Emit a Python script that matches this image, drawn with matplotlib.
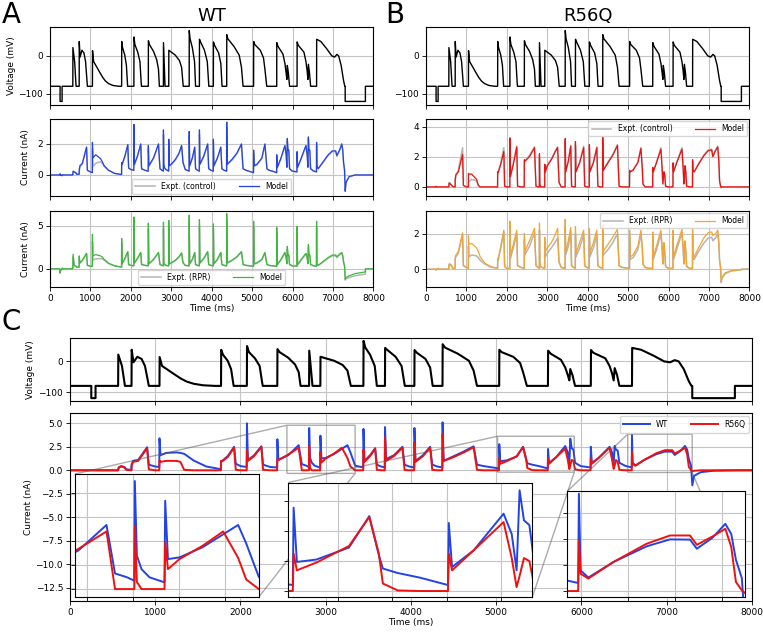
import numpy as np
import matplotlib
matplotlib.use('Agg')
from matplotlib import pyplot as plt

# ---- voltage protocol breakpoints (ms, mV) ----
V_T = [0, 250, 250, 300, 300, 565,
       567, 610, 645,
       722, 724, 745, 790, 840, 880, 915, 925,
       1050, 1052, 1080, 1150, 1240, 1300, 1370, 1450, 1560, 1700,
       1772, 1774, 1795, 1850, 1890, 1920,
       2075, 2077, 2100, 2170, 2225, 2255, 2262,
       2432, 2434, 2460, 2560, 2640, 2683, 2705,
       2805, 2807, 2845,
       2937, 2939, 3000, 3100, 3200, 3255, 3295,
       3442, 3444, 3465, 3520, 3575, 3600,
       3695, 3697, 3720, 3820, 3890, 3928,
       4040, 4042, 4070, 4170, 4225, 4255,
       4370, 4372, 4400, 4550, 4680, 4735, 4775,
       5035, 5037, 5065, 5200, 5280, 5315, 5360,
       5607, 5609, 5640, 5760, 5810, 5840, 5858, 5869, 5895, 5925,
       6110, 6112, 6140, 6280, 6330, 6360, 6378, 6390, 6418, 6445,
       6593, 6595, 6700, 6850, 6970, 7040, 7094, 7140, 7200, 7260, 7290,
       7300, 7300, 7800, 7800, 8000]
V_MV = [-80, -80, -120, -120, -80, -80,
        22, -15, -80,
        -80, 38, -3, 15, 8, -15, -65, -80,
        -80, 14, -15, -28, -45, -56, -66, -73, -78, -80,
        -80, 38, 22, 2, -25, -80,
        -80, 50, 30, 10, -15, -70, -80,
        -80, 40, 30, 12, -10, -35, -80,
        -80, 35, -80,
        -80, 15, 10, 2, -12, -30, -80,
        -80, 67, 45, 22, -15, -80,
        -80, 44, 38, 15, -15, -80,
        -80, 37, 28, 8, -20, -80,
        -80, 56, 45, 25, 2, -30, -80,
        -80, 38, 30, 15, -5, -35, -80,
        -80, 35, 25, 5, -20, -45, -62, -25, -45, -80,
        -80, 37, 28, 10, -15, -40, -62, -22, -45, -80,
        -80, 44, 38, 18, 0, -3, 4, 0, -25, -65, -80,
        -80, -120, -120, -80, -80]

# ---- key times shared by all current traces (ms) ----
T_KEY = [0, 245, 250, 262, 300, 303, 320, 560,
         565, 572, 600, 640, 660, 721,
         723, 740, 800, 905, 925, 1000, 1048,
         1050, 1062, 1130, 1250, 1295, 1340, 1450, 1600, 1770,
         1773, 1785, 1850, 1925, 1945, 2000, 2073,
         2076, 2088, 2160, 2245, 2265, 2350, 2430,
         2433, 2445, 2560, 2683, 2720, 2770, 2804,
         2806, 2815, 2835, 2870, 2935,
         2938, 2950, 3000, 3100, 3190, 3255, 3290, 3345, 3440,
         3443, 3455, 3520, 3580, 3600, 3650, 3693,
         3696, 3708, 3800, 3900, 3925, 3980, 4038,
         4041, 4053, 4140, 4225, 4250, 4310, 4368,
         4371, 4383, 4500, 4620, 4735, 4775, 4850, 5033,
         5036, 5048, 5120, 5240, 5315, 5350, 5365, 5420, 5500, 5605,
         5608, 5620, 5700, 5810, 5840, 5858, 5869, 5885, 5905, 5925, 5990, 6107,
         6110, 6122, 6200, 6330, 6360, 6378, 6390, 6405, 6425, 6445, 6520, 6590,
         6593, 6600, 6633, 6740, 6880, 6980, 7065, 7094, 7160, 7215, 7240, 7260, 7285,
         7301, 7320, 7400, 7550, 7799, 7802, 7850, 8000]

# ---- WT, control (nA) ----
WT_CTRL_MODEL = [0, 0, 0.08, -0.03, 0, -0.05, 0, 0,
                 0.03, 0.25, 0.2, 0.15, 0.05, 0.05,
                 0.3, 0.6, 0.75, 1.8, 0.3, 0.2, 0.15,
                 2.1, 1.1, 1.3, 1.05, 0.85, 0.6, 0.3, 0.1, 0.03,
                 0.8, 0.7, 1.2, 1.95, 0.45, 0.35, 0.3,
                 3.25, 0.7, 1.2, 2.0, 0.4, 0.3, 0.25,
                 1.9, 0.6, 1.1, 2.0, 0.4, 0.3, 0.25,
                 2.9, 0.7, 0.45, 0.35, 0.25,
                 2.3, 0.6, 0.7, 1.0, 1.4, 1.9, 0.8, 0.35, 0.25,
                 2.8, 0.6, 1.1, 1.8, 0.4, 0.3, 0.25,
                 2.9, 0.7, 1.2, 2.0, 0.4, 0.3, 0.25,
                 2.3, 0.6, 1.1, 1.8, 0.4, 0.3, 0.25,
                 3.4, 0.7, 1.0, 1.4, 2.0, 0.4, 0.3, 0.15,
                 1.6, 0.6, 0.7, 1.1, 2.0, 0.9, 0.4, 0.3, 0.25, 0.15,
                 1.3, 0.5, 1.0, 1.9, 1.3, 0.5, 2.35, 1.6, 1.6, 0.4, 0.25, 0.2,
                 1.5, 0.5, 1.0, 1.9, 1.3, 0.5, 2.45, 1.6, 1.6, 0.4, 0.25, 0.2,
                 2.1, 0.6, 0.4, 0.8, 1.3, 1.55, 1.55, 1.25, 1.6, 2.0, 1.6, 0.8, 0.3,
                 -1.05, -0.5, -0.1, 0, 0, 0, 0, 0]
WT_CTRL_EXPT = [0, 0, 0.05, 0, 0, -0.03, 0, 0,
                0.03, 0.2, 0.18, 0.12, 0.05, 0.05,
                0.25, 0.5, 0.7, 1.75, 0.3, 0.2, 0.15,
                1.7, 0.55, 0.75, 0.85, 0.75, 0.55, 0.3, 0.1, 0.03,
                0.7, 0.65, 1.15, 1.9, 0.45, 0.35, 0.3,
                2.8, 0.65, 1.15, 1.95, 0.4, 0.3, 0.25,
                1.7, 0.55, 1.05, 1.95, 0.4, 0.3, 0.25,
                2.6, 0.65, 0.45, 0.35, 0.25,
                2.0, 0.55, 0.65, 0.95, 1.35, 1.85, 0.8, 0.35, 0.25,
                2.5, 0.55, 1.05, 1.75, 0.4, 0.3, 0.25,
                2.6, 0.65, 1.15, 1.95, 0.4, 0.3, 0.25,
                2.1, 0.55, 1.05, 1.75, 0.4, 0.3, 0.25,
                3.0, 0.65, 0.95, 1.35, 1.95, 0.4, 0.3, 0.15,
                1.4, 0.55, 0.65, 1.05, 1.95, 0.9, 0.4, 0.3, 0.25, 0.15,
                1.2, 0.45, 0.95, 1.85, 1.3, 0.5, 2.2, 1.55, 1.55, 0.4, 0.25, 0.2,
                1.3, 0.45, 0.95, 1.85, 1.3, 0.5, 2.3, 1.55, 1.55, 0.4, 0.25, 0.2,
                1.9, 0.55, 0.4, 0.75, 1.25, 1.5, 1.5, 1.2, 1.55, 1.95, 1.6, 0.8, 0.3,
                -1.0, -0.45, -0.1, 0, 0, 0, 0, 0]

# ---- WT, RPR ----
WT_RPR_MODEL = [0, 0, -0.5, -0.2, 0, 0.1, 0, 0,
                0.1, 1.7, 0.4, 0.3, 0.2, 0.2,
                1.5, 0.7, 1.0, 1.8, 0.4, 0.3, 0.3,
                4.0, 1.5, 1.65, 1.5, 1.35, 1.1, 0.65, 0.35, 0.2,
                3.5, 0.6, 1.2, 2.0, 0.5, 0.4, 0.35,
                6.0, 0.7, 1.2, 1.9, 0.5, 0.4, 0.35,
                5.3, 0.6, 1.1, 1.9, 0.5, 0.4, 0.35,
                5.4, 0.7, 0.5, 0.4, 0.35,
                5.6, 0.6, 0.7, 1.0, 1.4, 1.85, 0.7, 0.4, 0.35,
                6.2, 0.6, 1.1, 1.9, 0.5, 0.4, 0.35,
                5.7, 0.7, 1.2, 2.0, 0.5, 0.4, 0.35,
                5.2, 0.6, 1.1, 1.9, 0.5, 0.4, 0.35,
                6.4, 0.7, 1.0, 1.4, 2.0, 0.5, 0.4, 0.3,
                5.5, 0.6, 0.7, 1.1, 1.9, 0.9, 0.5, 0.4, 0.35, 0.3,
                4.8, 0.5, 1.0, 1.9, 1.3, 0.6, 2.6, 1.6, 1.6, 0.5, 0.35, 0.3,
                4.9, 0.5, 1.0, 1.8, 1.3, 0.6, 2.8, 1.6, 1.6, 0.5, 0.35, 0.3,
                5.5, 0.6, 0.4, 0.8, 1.3, 1.6, 1.6, 1.4, 1.7, 1.9, 1.5, 0.8, 0.3,
                -1.2, -1.0, -0.8, -0.55, -0.35, 0, 0, 0]
WT_RPR_EXPT = [0, 0, -0.45, -0.15, 0, 0.08, 0, 0,
               0.1, 1.4, 0.35, 0.3, 0.2, 0.2,
               1.2, 0.65, 0.95, 1.75, 0.4, 0.3, 0.3,
               3.2, 1.0, 1.15, 1.2, 1.15, 1.0, 0.6, 0.35, 0.2,
               3.0, 0.55, 1.15, 1.95, 0.5, 0.4, 0.35,
               5.2, 0.65, 1.15, 1.85, 0.5, 0.4, 0.35,
               4.6, 0.55, 1.05, 1.85, 0.5, 0.4, 0.35,
               4.7, 0.65, 0.5, 0.4, 0.35,
               4.9, 0.55, 0.65, 0.95, 1.35, 1.8, 0.7, 0.4, 0.35,
               5.4, 0.55, 1.05, 1.85, 0.5, 0.4, 0.35,
               5.0, 0.65, 1.15, 1.95, 0.5, 0.4, 0.35,
               4.6, 0.55, 1.05, 1.85, 0.5, 0.4, 0.35,
               5.6, 0.65, 0.95, 1.35, 1.95, 0.5, 0.4, 0.3,
               4.8, 0.55, 0.65, 1.05, 1.85, 0.9, 0.5, 0.4, 0.35, 0.3,
               4.2, 0.45, 0.95, 1.85, 1.3, 0.6, 2.3, 1.55, 1.55, 0.5, 0.35, 0.3,
               4.3, 0.45, 0.95, 1.75, 1.3, 0.6, 2.5, 1.55, 1.55, 0.5, 0.35, 0.3,
               4.8, 0.55, 0.4, 0.75, 1.25, 1.5, 1.5, 1.3, 1.6, 1.85, 1.5, 0.8, 0.3,
               -1.3, -1.15, -1.0, -0.8, -0.6, 0, 0, 0]

# ---- R56Q, control ----
R56Q_CTRL_MODEL = [0, 0, 0.05, 0, 0, 0, 0, 0,
                   0.0, 0.25, 0.2, 0.1, 0.02, 0.0,
                   0.5, 0.8, 1.0, 2.15, 0.1, 0.0, 0.0,
                   0.9, 0.85, 0.85, 0.5, 0.1, 0.0, 0.0, 0.0, 0.0,
                   1.0, 0.95, 1.5, 2.35, 0.05, 0.0, 0.0,
                   3.25, 0.7, 1.5, 2.65, 0.05, 0.0, 0.0,
                   1.8, 1.7, 2.0, 2.6, 0.05, 0.0, 0.0,
                   2.2, 0.2, 0.0, 0.0, 0.0,
                   1.5, 1.0, 1.4, 1.8, 2.3, 2.6, 0.3, 0.0, 0.0,
                   3.2, 1.0, 1.7, 2.7, 0.05, 0.0, 0.0,
                   3.0, 1.0, 1.6, 2.6, 0.05, 0.0, 0.0,
                   2.8, 1.0, 1.6, 2.6, 0.05, 0.0, 0.0,
                   3.3, 1.1, 1.6, 2.1, 2.75, 0.05, 0.0, 0.0,
                   1.1, 1.0, 1.1, 1.6, 2.55, 1.2, 0.2, 0.0, 0.0, 0.0,
                   1.3, 1.0, 1.6, 2.5, 1.2, 0.2, 0.5, 1.0, 0.8, 0.05, 0.0, 0.0,
                   1.6, 1.0, 1.6, 2.5, 1.2, 0.2, 0.6, 1.4, 1.0, 0.05, 0.0, 0.0,
                   1.8, 1.1, 1.0, 1.5, 2.1, 2.4, 2.45, 2.0, 2.4, 2.65, 1.8, 0.4, 0.05,
                   -0.05, 0, 0, 0, 0, 0, 0, 0]
R56Q_CTRL_EXPT = [0, 0, 0, 0, 0, 0, 0, 0,
                  0.0, 0.3, 0.25, 0.1, 0.02, 0.0,
                  0.5, 0.8, 1.1, 2.6, 0.1, 0.0, 0.0,
                  0.3, 0.35, 0.5, 0.4, 0.1, 0.0, 0.0, 0.0, 0.0,
                  1.0, 1.0, 1.6, 2.6, 0.05, 0.0, 0.0,
                  3.0, 0.7, 1.6, 2.7, 0.05, 0.0, 0.0,
                  1.7, 1.7, 2.1, 2.65, 0.05, 0.0, 0.0,
                  2.0, 0.2, 0.0, 0.0, 0.0,
                  1.4, 1.0, 1.45, 1.85, 2.35, 2.65, 0.3, 0.0, 0.0,
                  3.0, 1.0, 1.75, 2.75, 0.05, 0.0, 0.0,
                  2.8, 1.0, 1.65, 2.7, 0.05, 0.0, 0.0,
                  2.6, 1.0, 1.65, 2.65, 0.05, 0.0, 0.0,
                  3.1, 1.1, 1.65, 2.15, 2.8, 0.05, 0.0, 0.0,
                  1.0, 1.0, 1.15, 1.65, 2.6, 1.2, 0.2, 0.0, 0.0, 0.0,
                  1.2, 1.0, 1.65, 2.6, 1.2, 0.2, 0.5, 1.0, 0.8, 0.05, 0.0, 0.0,
                  1.5, 1.0, 1.65, 2.6, 1.2, 0.2, 0.6, 1.4, 1.0, 0.05, 0.0, 0.0,
                  1.7, 1.1, 1.0, 1.55, 2.15, 2.45, 2.5, 2.05, 2.45, 2.7, 1.8, 0.4, 0.05,
                  0, 0, 0, 0, 0, 0, 0, 0]

# ---- R56Q, RPR ----
R56Q_RPR_MODEL = [0, 0, -0.05, 0, 0, 0.05, 0, 0,
                  0.05, 0.3, 0.3, 0.2, 0.05, 0.05,
                  0.7, 0.8, 1.0, 2.05, 0.2, 0.1, 0.05,
                  1.9, 1.4, 1.45, 1.2, 1.0, 0.7, 0.35, 0.15, 0.05,
                  0.6, 0.6, 1.3, 2.2, 0.15, 0.05, 0.05,
                  2.7, 0.8, 1.4, 2.2, 0.2, 0.1, 0.05,
                  2.0, 1.0, 1.6, 2.3, 0.2, 0.1, 0.05,
                  2.6, 0.4, 0.15, 0.1, 0.05,
                  1.8, 1.0, 1.2, 1.5, 1.9, 2.3, 0.4, 0.1, 0.05,
                  2.8, 1.0, 1.6, 2.35, 0.2, 0.1, 0.05,
                  2.4, 0.9, 1.5, 2.2, 0.2, 0.1, 0.05,
                  2.3, 0.9, 1.5, 2.2, 0.2, 0.1, 0.05,
                  2.5, 1.0, 1.4, 1.8, 2.25, 0.2, 0.1, 0.05,
                  2.2, 0.7, 0.8, 1.3, 2.2, 1.2, 0.3, 0.1, 0.05, 0.05,
                  2.1, 0.7, 1.3, 2.2, 1.2, 0.3, 1.2, 1.5, 1.0, 0.15, 0.05, 0.05,
                  2.2, 0.7, 1.3, 2.25, 1.2, 0.3, 1.4, 1.6, 1.1, 0.15, 0.05, 0.05,
                  2.3, 0.8, 0.7, 1.2, 1.8, 2.05, 2.1, 1.9, 2.0, 2.2, 1.6, 0.5, 0.1,
                  -0.7, -0.45, -0.2, -0.08, -0.02, 0, 0, 0]
R56Q_RPR_EXPT = [0, 0, -0.05, 0, 0, 0.05, 0, 0,
                 0.05, 0.25, 0.25, 0.15, 0.05, 0.05,
                 0.6, 0.7, 0.9, 1.95, 0.2, 0.1, 0.05,
                 1.3, 0.7, 0.8, 0.75, 0.65, 0.5, 0.3, 0.12, 0.05,
                 0.5, 0.5, 1.2, 2.1, 0.15, 0.05, 0.05,
                 2.3, 0.6, 1.2, 2.0, 0.2, 0.1, 0.05,
                 1.7, 0.8, 1.3, 2.05, 0.2, 0.1, 0.05,
                 2.2, 0.35, 0.15, 0.1, 0.05,
                 1.5, 0.7, 0.9, 1.2, 1.5, 1.75, 0.4, 0.1, 0.05,
                 2.4, 0.8, 1.3, 2.1, 0.2, 0.1, 0.05,
                 2.0, 0.7, 1.2, 1.95, 0.2, 0.1, 0.05,
                 1.9, 0.7, 1.2, 1.95, 0.2, 0.1, 0.05,
                 2.1, 0.8, 1.1, 1.5, 2.0, 0.2, 0.1, 0.05,
                 1.8, 0.55, 0.65, 1.1, 2.0, 1.1, 0.3, 0.1, 0.05, 0.05,
                 1.8, 0.55, 1.1, 2.0, 1.1, 0.3, 1.0, 1.3, 0.9, 0.15, 0.05, 0.05,
                 1.9, 0.55, 1.1, 2.05, 1.1, 0.3, 1.2, 1.4, 1.0, 0.15, 0.05, 0.05,
                 2.0, 0.6, 0.55, 1.0, 1.5, 1.75, 1.8, 1.6, 1.75, 2.0, 1.5, 0.5, 0.1,
                 -0.75, -0.5, -0.25, -0.1, -0.03, 0, 0, 0]

# ---- panel C: model comparison ----
C_WT = [0, 0, 0, 0, 0, 0, 0, 0,
        0.05, 0.3, 0.45, 0.35, 0.1, 0.05,
        0.6, 1.0, 1.1, 2.45, 0.6, 0.4, 0.35,
        3.4, 1.6, 1.85, 1.9, 1.85, 1.75, 1.05, 0.4, 0.12,
        1.0, 1.0, 1.5, 2.5, 0.7, 0.45, 0.35,
        5.0, 1.1, 1.6, 2.55, 0.6, 0.35, 0.3,
        3.3, 1.1, 1.6, 2.67, 0.65, 0.5, 0.35,
        4.5, 1.39, 0.83, 0.49, 0.28,
        3.68, 1.25, 1.32, 1.74, 2.28, 2.67, 1.9, 0.5, 0.3,
        4.4, 1.0, 1.6, 2.35, 0.6, 0.4, 0.3,
        4.6, 1.2, 1.6, 2.5, 0.6, 0.4, 0.3,
        4.5, 1.0, 1.6, 2.5, 0.6, 0.4, 0.3,
        5.1, 1.0, 1.5, 2.0, 2.55, 0.6, 0.45, 0.2,
        2.78, 0.97, 1.05, 1.45, 2.5, 1.2, 0.75, 0.6, 0.45, 0.2,
        2.27, 0.8, 1.36, 2.58, 1.9, 0.69, 3.36, 2.36, 2.2, 0.8, 0.45, 0.3,
        2.5, 0.8, 1.3, 2.5, 1.9, 0.7, 2.6, 2.2, 2.1, 0.8, 0.45, 0.31,
        3.75, 0.8, 0.52, 1.12, 1.72, 1.99, 1.98, 1.63, 2.05, 2.59, 2.2, 1.2, 0.5,
        -1.6, -0.6, -0.2, -0.05, 0, 0, 0, 0]
C_R56Q = [0, 0, 0, 0, 0, 0, 0, 0,
          0.0, 0.3, 0.4, 0.3, 0.05, 0.0,
          0.5, 0.9, 1.0, 2.35, 0.1, 0.0, 0.0,
          1.05, 0.9, 1.0, 1.0, 0.9, 0.05, 0.0, 0.0, 0.0,
          1.0, 0.95, 1.4, 2.4, 0.05, 0.0, 0.0,
          2.2, 1.0, 1.5, 2.5, 0.05, 0.0, 0.0,
          1.2, 1.1, 1.67, 2.4, 0.0, 0.0, 0.0,
          2.6, 0.3, 0.0, 0.0, 0.0,
          1.95, 0.83, 1.25, 1.8, 2.4, 1.3, 0.4, 0.0, 0.0,
          2.2, 0.9, 1.5, 2.3, 0.05, 0.0, 0.0,
          3.5, 1.0, 1.5, 2.4, 0.05, 0.0, 0.0,
          3.0, 0.9, 1.5, 2.4, 0.05, 0.0, 0.0,
          3.9, 1.0, 1.4, 1.9, 2.45, 0.05, 0.0, 0.0,
          1.25, 0.69, 0.95, 1.5, 2.47, 1.25, 0.25, 0.02, 0.0, 0.0,
          1.25, 0.69, 1.36, 2.3, 1.1, 0.13, 0.5, 1.1, 1.0, 0.1, 0.0, 0.0,
          1.3, 0.7, 1.3, 2.4, 1.1, 0.15, 0.5, 1.1, 0.9, 0.05, 0.0, 0.0,
          1.95, 0.67, 0.48, 1.12, 1.82, 2.14, 2.14, 1.78, 2.1, 2.4, 1.7, 0.35, 0.03,
          -0.1, -0.05, 0, 0, 0, 0, 0, 0]

# zoom windows of panel C (ms, nA)
ZOOM_XLIM = [(2545, 3345), (5016, 5916), (6543, 7299)]
ZOOM_YLIM = [(-0.33, 4.79), (-0.2, 3.62), (-0.23, 3.84)]
ZOOM_XTICKS = [[2600, 2800, 3000, 3200], [5200, 5400, 5600, 5800],
               [6600, 6800, 7000, 7200]]
ZOOM_YTICKS = [[0, 1, 2, 3, 4], [0, 1, 2, 3], [0, 1, 2, 3]]

TIME_TICKS = list(range(0, 8001, 1000))

C_BLUE = '#2343e6'
C_RED = '#f01010'
C_GREEN = '#3cb93c'
C_ORANGE = '#f2a535'
C_GRAY = '#b4b4b4'

plt.rcParams['font.size'] = 6.5
plt.rcParams['axes.linewidth'] = 0.8

fig = plt.figure(figsize=(7.63, 6.32), dpi=100)


def new_axes(rect, xlabels=False):
    ax = fig.add_axes(rect)
    ax.set_xlim(0, 8000)
    ax.set_xticks(TIME_TICKS)
    ax.grid(True, color='#c4c4c4', lw=0.8)
    ax.set_axisbelow(True)
    ax.tick_params(labelsize=6.5, length=3, width=0.6, pad=2)
    if not xlabels:
        ax.set_xticklabels([])
    else:
        ax.set_xlabel('Time (ms)', fontsize=6.5, labelpad=1)
    return ax


colA, colB = 0.0655, 0.5583
wAB = 0.4240
rows = [(0.8339, 0.1234), (0.6899, 0.1218), (0.5459, 0.1203)]

panels = [
    (colA, 'WT', C_BLUE, C_GREEN, WT_CTRL_EXPT, WT_CTRL_MODEL, WT_RPR_EXPT, WT_RPR_MODEL,
     'lower center', [(-1.35, 3.6), (-2.1, 6.7)], [[0, 2], [0, 5]]),
    (colB, 'R56Q', C_RED, C_ORANGE, R56Q_CTRL_EXPT, R56Q_CTRL_MODEL, R56Q_RPR_EXPT, R56Q_RPR_MODEL,
     'upper right', [(-0.6, 4.5), (-1.0, 3.28)], [[0, 2, 4], [0, 2]]),
]

for left, title, c1, c2, e1, m1, e2, m2, lloc, ylims, yticks in panels:
    axv = new_axes([left, rows[0][0], wAB, rows[0][1]])
    axv.plot(V_T, V_MV, color='black', lw=1.0)
    axv.set_yticks([-100, 0])
    axv.set_title(title, fontsize=13, pad=4)

    ax1 = new_axes([left, rows[1][0], wAB, rows[1][1]])
    ax1.plot(T_KEY, e1, color=C_GRAY, lw=1.1, label='Expt. (control)')
    ax1.plot(T_KEY, m1, color=c1, lw=0.9, label='Model')
    ax1.set_ylim(*ylims[0])
    ax1.set_yticks(yticks[0])
    ax1.legend(loc=lloc, ncol=2, fontsize=5.5, handlelength=2.6, columnspacing=3.0,
               borderpad=0.4, borderaxespad=0.3)

    ax2 = new_axes([left, rows[2][0], wAB, rows[2][1]], xlabels=True)
    ax2.plot(T_KEY, e2, color=C_GRAY, lw=1.1, label='Expt. (RPR)')
    ax2.plot(T_KEY, m2, color=c2, lw=0.9, label='Model')
    ax2.set_ylim(*ylims[1])
    ax2.set_yticks(yticks[1])
    ax2.legend(loc=lloc, ncol=2, fontsize=5.5, handlelength=2.6, columnspacing=3.0,
               borderpad=0.4, borderaxespad=0.3)

    if left == colA:
        axv.set_ylabel('Voltage (mV)', fontsize=6.5, labelpad=2)
        ax1.set_ylabel('Current (nA)', fontsize=6.5, labelpad=5)
        ax2.set_ylabel('Current (nA)', fontsize=6.5, labelpad=5)

# ---- panel C ----
axc = new_axes([0.0917, 0.3655, 0.8938, 0.0997])
axc.plot(V_T, V_MV, color='black', lw=1.5)
axc.set_yticks([-100, 0])
axc.set_ylabel('Voltage (mV)', fontsize=6.5, labelpad=2)

axi = new_axes([0.0917, 0.0491, 0.8938, 0.2975], xlabels=True)
axi.plot(T_KEY, C_WT, color=C_BLUE, lw=1.4, label='WT')
axi.plot(T_KEY, C_R56Q, color=C_RED, lw=1.4, label='R56Q')
axi.set_ylim(-13.9, 6.1)
axi.set_yticks(np.arange(-12.5, 5.1, 2.5))
axi.set_ylabel('Current (nA)', fontsize=6.5, labelpad=2)
axi.legend(loc='upper right', ncol=2, fontsize=5.5, handlelength=3.5, columnspacing=3.0,
           borderpad=0.5, borderaxespad=0.4)

inset_rects = [[0.007, 0.021, 0.270, 0.654],
               [0.320, 0.021, 0.358, 0.609],
               [0.729, 0.021, 0.261, 0.562]]
for k in range(3):
    ins = axi.inset_axes(inset_rects[k])
    ins.plot(T_KEY, C_WT, color=C_BLUE, lw=1.4)
    ins.plot(T_KEY, C_R56Q, color=C_RED, lw=1.4)
    ins.set_xlim(*ZOOM_XLIM[k])
    ins.set_ylim(*ZOOM_YLIM[k])
    ins.set_xticks(ZOOM_XTICKS[k])
    ins.set_yticks(ZOOM_YTICKS[k])
    ins.set_xticklabels([])
    ins.set_yticklabels([])
    ins.tick_params(length=3, width=0.6)
    ins.grid(True, color='#c4c4c4', lw=0.8)
    ins.set_axisbelow(True)
    axi.indicate_inset_zoom(ins, edgecolor='0.35', lw=1.0)

fig.text(0.002, 0.998, 'A', fontsize=20, va='top', ha='left')
fig.text(0.505, 0.998, 'B', fontsize=20, va='top', ha='left')
fig.text(0.002, 0.512, 'C', fontsize=20, va='top', ha='left')

fig.savefig('out.png', dpi=100)
